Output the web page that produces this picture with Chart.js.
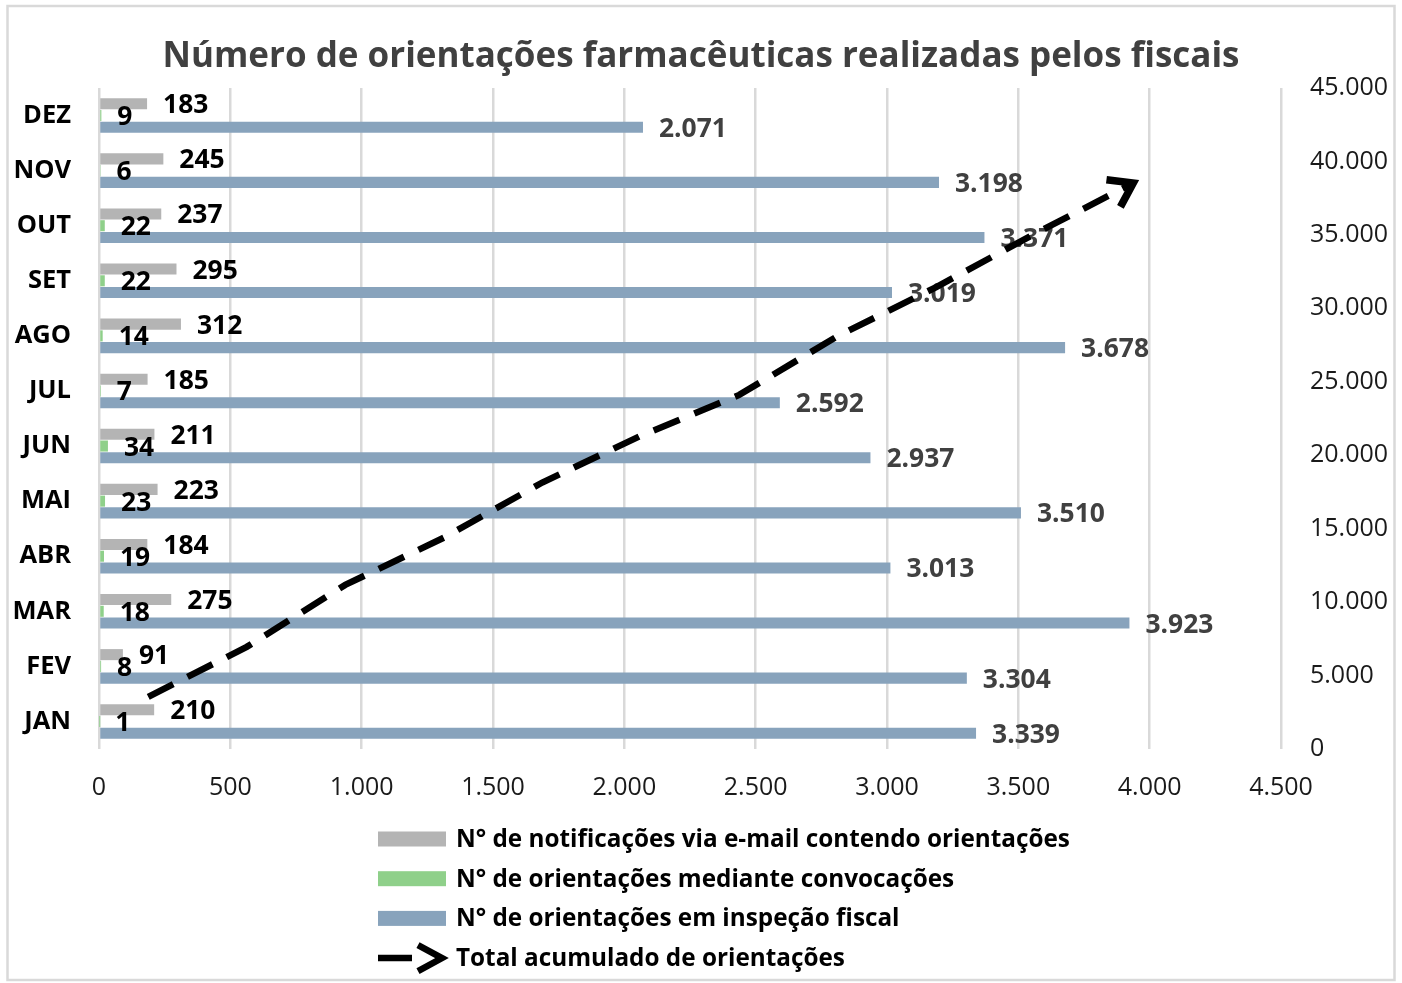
<!DOCTYPE html>
<html><head><meta charset="utf-8">
<script src="https://cdn.jsdelivr.net/npm/chart.js@4/dist/chart.umd.min.js"></script>
<style>html,body{margin:0;padding:0;background:#fff}#wrap{width:1402px;height:983px;position:relative}canvas{position:absolute;left:0;top:0}</style>
</head><body><div id="wrap"><canvas id="bars" width="1402" height="983"></canvas><canvas id="total" width="1402" height="983"></canvas></div>
<script>
const months = ['JAN','FEV','MAR','ABR','MAI','JUN','JUL','AGO','SET','OUT','NOV','DEZ'];
const emailNotifications = [210,91,275,184,223,211,185,312,295,237,245,183];
const convocationGuidance = [1,8,18,19,23,34,7,14,22,22,6,9];
const inspectionGuidance = [3339,3304,3923,3013,3510,2937,2592,3678,3019,3371,3198,2071];
const cumulativeTotal = [3550,6953,11169,14385,18141,21323,24107,28111,31447,35077,38526,null];
const seriesNames = ['N° de notificações via e-mail contendo orientações','N° de orientações mediante convocações','N° de orientações em inspeção fiscal','Total acumulado de orientações'];
const titleText = 'Número de orientações farmacêuticas realizadas pelos fiscais';

const FONT = 'Open Sans';
const fmt = v => String(v).replace(/\B(?=(\d{3})+(?!\d))/g, '.');
const COLORS = ['#b4b4b4','#8fd08a','#88a3bc'];

const bgPlugin = {
  id:'bg',
  beforeDraw(chart){
    const ctx = chart.ctx; ctx.save();
    ctx.fillStyle='#fff'; ctx.fillRect(0,0,chart.width,chart.height);
    ctx.strokeStyle='#d9d9d9'; ctx.lineWidth=2.5; ctx.strokeRect(7.5,6,1387,974);
    ctx.restore();
  }
};

const labelPlugin = {
  id:'labels',
  afterDatasetsDraw(chart){
    const ctx = chart.ctx; ctx.save();
    ctx.font = 'bold 26.4px "'+FONT+'"';
    ctx.textAlign='left'; ctx.textBaseline='middle';
    chart.data.datasets.forEach((ds,di)=>{
      const meta = chart.getDatasetMeta(di);
      ctx.fillStyle = di===2 ? '#404040' : '#000';
      meta.data.forEach((el,i)=>{ ctx.fillText(fmt(ds.data[i]), el.x+16, el.y+2); });
    });
    ctx.restore();
  },
  afterDraw(chart){
    const ctx = chart.ctx; ctx.save();
    const x0 = 378, x1 = 446, tx = 456, y0 = chart.chartArea.bottom + 90, dy = 39.7;
    ctx.font = 'bold 24.3px "'+FONT+'"'; ctx.textAlign='left'; ctx.textBaseline='middle';
    seriesNames.forEach((name,i)=>{
      const y = y0 + i*dy;
      if (i<3){ ctx.fillStyle = COLORS[i]; ctx.fillRect(x0, y-7.5, x1-x0, 15); }
      else {
        ctx.strokeStyle='#000'; ctx.lineWidth=6.5;
        ctx.beginPath(); ctx.moveTo(x0, y); ctx.lineTo(x0+34, y); ctx.stroke();
        ctx.beginPath(); ctx.moveTo(x0+40, y-13); ctx.lineTo(x1-4, y); ctx.lineTo(x0+40, y+13); ctx.stroke();
      }
      ctx.fillStyle='#000'; ctx.fillText(name, tx, y+1);
    });
    ctx.restore();
  }
};

new Chart(document.getElementById('bars'), {
  type:'bar',
  data:{
    labels: months,
    datasets:[
      {label:seriesNames[0], data:emailNotifications, backgroundColor:COLORS[0]},
      {label:seriesNames[1], data:convocationGuidance, backgroundColor:COLORS[1]},
      {label:seriesNames[2], data:inspectionGuidance, backgroundColor:COLORS[2]}
    ]
  },
  options:{
    indexAxis:'y', responsive:false, animation:false,
    datasets:{bar:{categoryPercentage:0.64, barPercentage:0.94}},
    layout:{padding:{left:0,right:0,top:0,bottom:170}},
    plugins:{
      legend:{display:false}, tooltip:{enabled:false},
      title:{display:true, text:titleText, color:'#404040', font:{family:FONT, size:35, weight:'bold'}, padding:{top:36,bottom:10}}
    },
    scales:{
      x:{type:'linear', position:'bottom', min:0, max:4500,
         ticks:{stepSize:500, color:'#1a1a1a', font:{family:FONT,size:25}, padding:24, callback:v=>fmt(v)},
         grid:{color:'#d9d9d9', lineWidth:2.5, drawTicks:false}, border:{display:false},
         afterFit:s=>{s.width=s.width; s.height=64;}},
      y:{type:'category', position:'left', reverse:true, offset:true,
         ticks:{color:'#000', font:{family:FONT,size:25.5,weight:'bold'}, padding:28},
         grid:{display:false, drawTicks:false}, border:{display:false},
         afterFit:s=>{s.width=99;}},
      rightSpace:{type:'linear', axis:'y', position:'right', offset:false,
         ticks:{display:false}, grid:{display:false, drawTicks:false}, border:{display:false},
         afterFit:s=>{s.width=121;}}
    }
  },
  plugins:[bgPlugin, labelPlugin]
});

const arrowPlugin = {
  id:'arrow',
  afterDatasetsDraw(chart){
    const ds = chart.data.datasets[0];
    const meta = chart.getDatasetMeta(0);
    const pts = meta.data.filter((p,i)=>ds.data[i]!=null);
    const a = pts[pts.length-2], b = pts[pts.length-1];
    const ang = Math.atan2(b.y-a.y, b.x-a.x);
    const ctx = chart.ctx; ctx.save();
    ctx.strokeStyle='#000'; ctx.lineWidth=7.5; ctx.lineJoin='miter'; ctx.lineCap='butt';
    const L=27, w=0.6;
    ctx.beginPath();
    ctx.moveTo(b.x - L*Math.cos(ang-w), b.y - L*Math.sin(ang-w));
    ctx.lineTo(b.x, b.y);
    ctx.lineTo(b.x - L*Math.cos(ang+w), b.y - L*Math.sin(ang+w));
    ctx.stroke();
    ctx.restore();
  }
};

new Chart(document.getElementById('total'), {
  type:'line',
  data:{labels: months, datasets:[{label:seriesNames[3], data:cumulativeTotal, borderColor:'#000', borderWidth:6.5, borderDash:[28,16], pointRadius:0, fill:false, tension:0}]},
  options:{
    responsive:false, animation:false,
    layout:{padding:{left:99, top:88, bottom:234, right:0}},
    plugins:{legend:{display:false}, title:{display:false}, tooltip:{enabled:false}},
    scales:{
      x:{type:'category', display:false, offset:true},
      y:{type:'linear', position:'right', min:0, max:45000,
         ticks:{stepSize:5000, color:'#1a1a1a', font:{family:FONT,size:25}, padding:29, callback:v=>fmt(v)},
         grid:{display:false, drawTicks:false}, border:{display:false},
         afterFit:s=>{s.width=121;}}
    }
  },
  plugins:[arrowPlugin]
});
</script></body></html>
